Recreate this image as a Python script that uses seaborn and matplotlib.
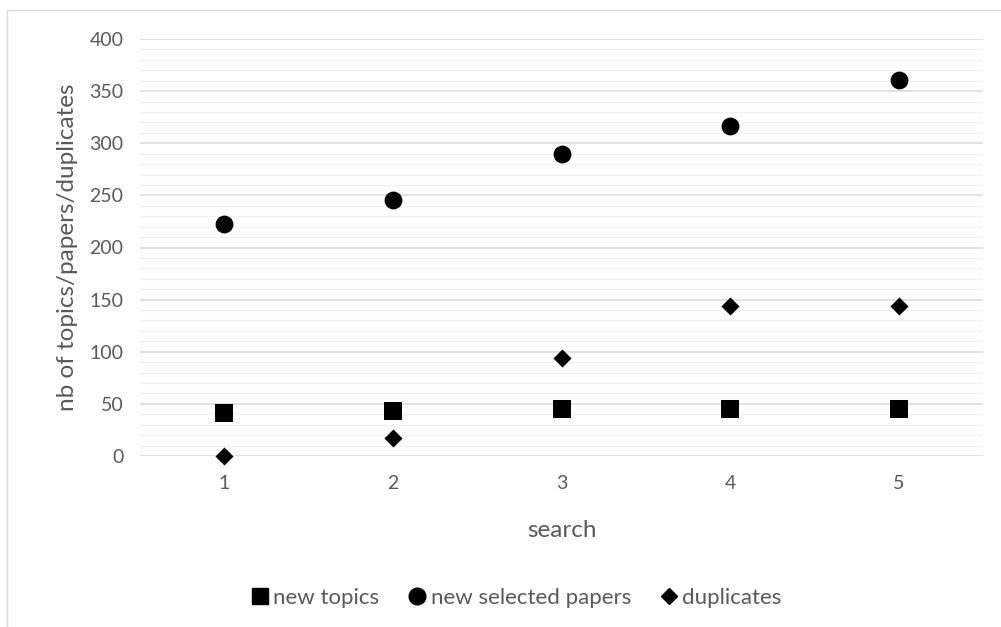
import numpy as np
import pandas as pd
import matplotlib
matplotlib.use("Agg")
import matplotlib.pyplot as plt
from matplotlib.lines import Line2D
from matplotlib.ticker import MultipleLocator
import seaborn as sns

# ---- data ----
search = [1, 2, 3, 4, 5]
new_topics = [41, 43, 45, 45, 45]
new_papers = [223, 246, 290, 317, 361]
duplicates = [0, 17, 94, 144, 144]

series_names = ["new topics", "new selected papers", "duplicates"]

df = pd.DataFrame({
    "search": search * 3,
    "value": new_topics + new_papers + duplicates,
    "series": np.repeat(series_names, len(search)),
})

sns.set_style("white")
plt.rcParams["font.family"] = ["Lato", "DejaVu Sans"]

fig = plt.figure(figsize=(10.01, 6.27), dpi=100)
ax = fig.add_axes([140 / 1001, 1 - 456 / 627, (983 - 140) / 1001, (456 - 39) / 627])

markers = {"new topics": "s", "new selected papers": "o", "duplicates": "D"}
sizes = {"new topics": 150, "new selected papers": 165, "duplicates": 85}
for name in series_names:
    sub = df[df["series"] == name]
    sns.scatterplot(data=sub, x="search", y="value", marker=markers[name],
                    s=sizes[name], color="black", edgecolor="black",
                    linewidth=0, ax=ax, zorder=5, legend=False, clip_on=False)

ax.set_xlim(0.5, 5.5)
ax.set_ylim(0, 400)
ax.set_xticks(search)
ax.yaxis.set_major_locator(MultipleLocator(50))
ax.yaxis.set_minor_locator(MultipleLocator(10))
ax.grid(axis="y", which="major", color="#d9d9d9", linewidth=1.1, zorder=1)
ax.grid(axis="y", which="minor", color="#f2f2f2", linewidth=1.0, zorder=0)
ax.grid(axis="x", visible=False)
ax.set_axisbelow(True)
for sp in ax.spines.values():
    sp.set_visible(False)
ax.tick_params(axis="both", which="both", length=0, labelsize=14, colors="#595959")
ax.tick_params(axis="x", pad=14)
ax.tick_params(axis="y", pad=12)

ax.set_xlabel("search", fontsize=17.5, color="#595959", labelpad=20)
ax.set_ylabel("nb of topics/papers/duplicates", fontsize=17.5, color="#595959", labelpad=8)

handles = [Line2D([], [], linestyle="none", marker=markers[n], color="black",
                  markersize={"new topics": 11, "new selected papers": 12, "duplicates": 8}[n])
           for n in series_names]
fig.legend(handles, series_names, loc="center", bbox_to_anchor=(514 / 1001, 1 - 598 / 627),
           ncol=3, frameon=False, fontsize=16, handletextpad=0.0, columnspacing=1.1,
           handlelength=1.2, labelcolor="#595959")

# light border of the chart area
x0 = 7 / 1001
y0 = 1 - 10 / 627
fig.add_artist(Line2D([x0, x0], [0, y0], color="#d9d9d9", linewidth=1, transform=fig.transFigure))
fig.add_artist(Line2D([x0, 1], [y0, y0], color="#d9d9d9", linewidth=1, transform=fig.transFigure))

fig.savefig("out.png", dpi=100, facecolor="white")
